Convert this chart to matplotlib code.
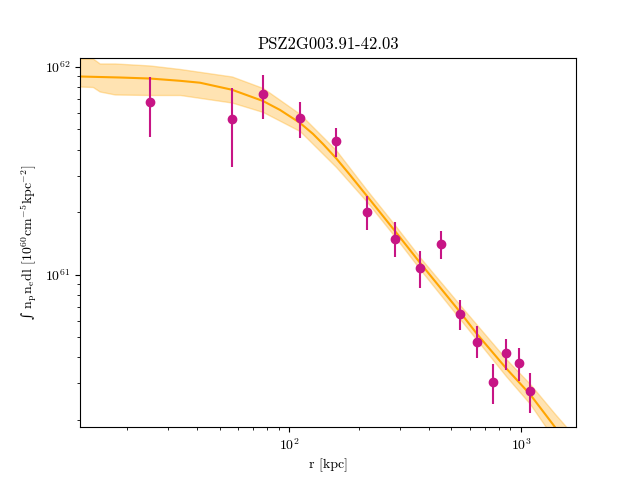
import matplotlib
matplotlib.use("Agg")
import matplotlib.pyplot as plt
import numpy as np

plt.rcParams['font.family'] = ['cmr10', 'DejaVu Serif']
plt.rcParams['mathtext.fontset'] = 'cm'
plt.rcParams['axes.formatter.use_mathtext'] = True

# measured profile (radius in kpc)
r_obs = [25.05, 56.75, 77.2, 111.6, 159.1, 217.1, 286.7, 366.6, 452.9,
         547.1, 645.8, 757.1, 861.6, 980.4, 1093.6]
em_obs = [6.76e61, 5.60e61, 7.39e61, 5.66e61, 4.40e61, 1.99e61, 1.49e61, 1.07e61, 1.40e61,
          6.43e60, 4.74e60, 3.03e60, 4.18e60, 3.75e60, 2.75e60]
em_hi = [8.95e61, 7.92e61, 9.15e61, 6.78e61, 5.08e61, 2.39e61, 1.79e61, 1.30e61, 1.62e61,
         7.54e60, 5.65e60, 3.70e60, 4.89e60, 4.42e60, 3.35e60]
em_lo = [4.60e61, 3.30e61, 5.62e61, 4.55e61, 3.68e61, 1.64e61, 1.21e61, 8.61e60, 1.19e61,
         5.40e60, 3.96e60, 2.38e60, 3.47e60, 3.07e60, 2.15e60]

# best-fit model
r_fit = [12.5, 18.6, 25.05, 33.8, 41.2, 56.6, 77.0, 91.2, 111.2, 126.6, 140.0, 159.1, 182.8,
         216.4, 285.9, 366.6, 545.5, 645.8, 861.6, 1093.6, 1402, 1728]
em_fit = [9.00e61, 8.90e61, 8.80e61, 8.58e61, 8.40e61, 7.77e61, 6.86e61, 6.21e61, 5.38e61,
          4.76e61, 4.25e61, 3.64e61, 3.02e61, 2.39e61, 1.62e61, 1.14e61, 6.60e60, 5.17e60,
          3.54e60, 2.65e60, 1.84e60, 1.38e60]

# model uncertainty band
r_band = [12.5, 14.2, 15.2, 17.7, 25.05, 33.8, 56.6, 77.0, 111.2, 159.1, 216.4, 285.9,
          366.6, 545.5, 861.6, 1093.6, 1402, 1728]
band_hi = [1.099e62, 1.099e62, 1.04e62, 1.04e62, 1.017e62, 9.78e61, 9.00e61, 7.92e61, 5.94e61,
           3.98e61, 2.55e61, 1.73e61, 1.21e61, 7.13e60, 3.92e60, 2.97e60, 2.13e60, 1.63e60]
band_lo = [8.05e61, 8.01e61, 7.62e61, 7.37e61, 7.33e61, 7.33e61, 6.74e61, 6.07e61, 4.91e61,
           3.30e61, 2.24e61, 1.52e61, 1.06e61, 6.10e60, 3.24e60, 2.38e60, 1.59e60, 1.17e60]

fig, ax = plt.subplots(figsize=(6.4, 4.8), dpi=100)

ax.fill_between(r_band, band_lo, band_hi, color='orange', alpha=0.3)
ax.plot(r_fit, em_fit, color='orange', lw=1.5)

y = np.array(em_obs)
yerr = [y - np.array(em_lo), np.array(em_hi) - y]
ax.errorbar(r_obs, em_obs, yerr=yerr, fmt='o', color='mediumvioletred', elinewidth=1.5)

ax.set_xscale('log')
ax.set_yscale('log')
ax.set_xlim(12.5, 1728)
ax.set_ylim(1.837e60, 1.11e62)

ax.set_xlabel(r'r [kpc]')
ax.set_ylabel('\u222b ' + r'$\mathrm{n_p n_e dl}\ [10^{60}\mathrm{cm^{-5}kpc^{-2}}]$',
              family='DejaVu Serif')
ax.set_title('PSZ2G003.91-42.03')

fig.savefig('out.png', dpi=100)
